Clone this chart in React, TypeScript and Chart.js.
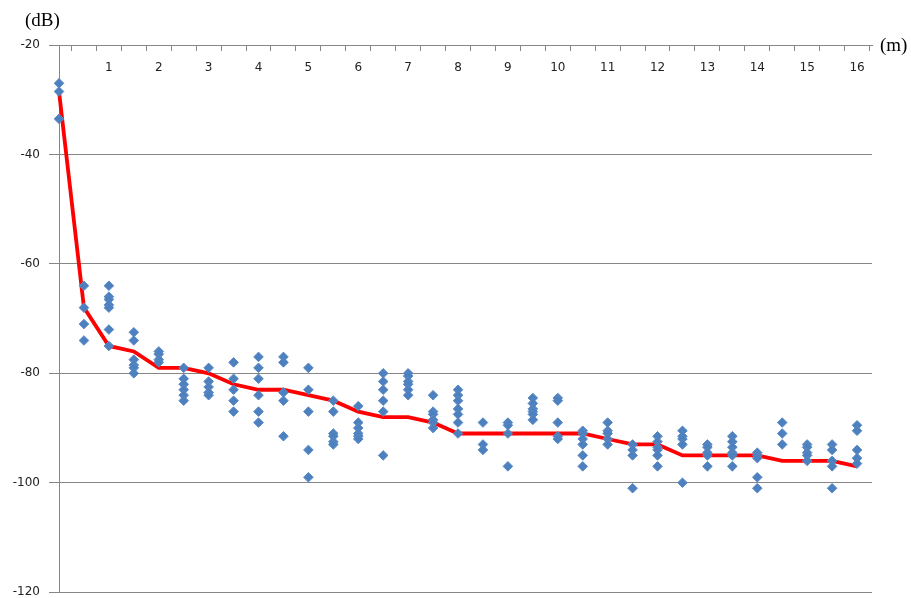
import React, { useEffect, useRef } from "react";
import { Chart, registerables } from "chart.js";

Chart.register(...registerables);

// distance from source (m)
const distances = [
  0, 0.5, 1, 1.5, 2, 2.5, 3, 3.5, 4, 4.5, 5, 5.5, 6, 6.5, 7, 7.5, 8,
  8.5, 9, 9.5, 10, 10.5, 11, 11.5, 12, 12.5, 13, 13.5, 14, 14.5, 15, 15.5, 16,
];

// measured levels (dB) at each distance
const measured: number[][] = [
  [-27, -28.5, -33.5],
  [-64, -68, -71, -74],
  [-64, -66, -66.5, -67.5, -68, -72, -75],
  [-72.5, -74, -77.5, -78.5, -79, -80],
  [-76, -76.5, -77.5, -78],
  [-79, -81, -82, -83, -84, -85],
  [-79, -81.5, -82.5, -83.5, -84],
  [-78, -81, -83, -85, -87],
  [-77, -79, -81, -84, -87, -89],
  [-77, -78, -83.5, -85, -91.5],
  [-79, -83, -87, -94, -99],
  [-85, -87, -91, -91.5, -92.5, -93],
  [-86, -89, -90, -91, -91.5, -92],
  [-80, -81.5, -83, -85, -87, -95],
  [-80, -80.5, -81.5, -82, -83, -84],
  [-84, -87, -87.5, -88.5, -89, -90],
  [-83, -84, -85, -86.5, -87.5, -89, -91],
  [-89, -93, -94],
  [-89, -89.5, -91, -97],
  [-84.5, -85.5, -86.5, -87, -87.5, -88.5],
  [-84.5, -85, -89, -91.5, -92],
  [-90.5, -91, -92, -93, -95, -97],
  [-89, -90.5, -91, -92, -93],
  [-93, -94, -95, -101],
  [-91.5, -92.5, -93.5, -94, -95, -97],
  [-90.5, -91.5, -92, -93, -100],
  [-93, -93.5, -94.5, -95, -97],
  [-91.5, -92.5, -93.5, -94.5, -95, -97],
  [-94.5, -95, -95.5, -99, -101],
  [-89, -91, -93],
  [-93, -93.5, -94.5, -95, -96],
  [-93, -94, -96, -97, -101],
  [-89.5, -90.5, -94, -95.5, -96.5],
];

// representative (trend) level at each distance (dB)
const trend = [
  -28.5, -68, -75, -76, -79, -79, -80, -82, -83, -83, -84, -85, -87, -88, -88, -89, -91,
  -91, -91, -91, -91, -91, -92, -93, -93, -95, -95, -95, -95, -96, -96, -96, -97,
];

const yTicks = [-20, -40, -60, -80, -100, -120];
const yUnit = "(dB)";
const xUnit = "(m)";

const unitLabels = {
  id: "unitLabels",
  afterDraw(chart: any) {
    const ctx = chart.ctx;
    ctx.save();
    ctx.font = '19px "Liberation Serif"';
    ctx.fillStyle = "#000000";
    ctx.textBaseline = "middle";
    ctx.textAlign = "left";
    ctx.fillText(yUnit, 25, 21);
    ctx.fillText(xUnit, 880, 46);
    ctx.restore();
  },
};

export default function App() {
  const ref = useRef<HTMLCanvasElement | null>(null);

  useEffect(() => {
    if (!ref.current) return;
    const points: { x: number; y: number }[] = [];
    distances.forEach((d, i) => {
      measured[i].forEach((v) => points.push({ x: d, y: v }));
    });
    const line = distances.map((d, i) => ({ x: d, y: trend[i] }));
    const gray = "#868686";

    const chart = new Chart(ref.current, {
      type: "scatter",
      data: {
        datasets: [
          {
            label: "measured",
            data: points,
            pointStyle: "rectRot",
            pointRadius: 4.8,
            backgroundColor: "#4D80BE",
            borderColor: "#5A89C3",
            borderWidth: 1,
            clip: false,
          } as any,
          {
            type: "line",
            label: "trend",
            data: line,
            showLine: true,
            borderColor: "#FF0000",
            borderWidth: 3.8,
            pointRadius: 0,
            tension: 0,
            fill: false,
            clip: false,
          } as any,
        ],
      },
      options: {
        responsive: false,
        animation: false,
        events: [],
        layout: { padding: { left: 0, right: 39, top: 0, bottom: 3 } },
        plugins: { legend: { display: false }, tooltip: { enabled: false } },
        scales: {
          x: {
            type: "linear",
            position: "top",
            min: 0,
            max: 16.3,
            afterBuildTicks: (scale: any) => {
              scale.ticks = distances.map((v) => ({ value: v }));
            },
            afterFit: (scale: any) => {
              scale.height = 45;
              scale.paddingLeft = 0;
              scale.paddingRight = 0;
            },
            grid: {
              display: true,
              drawOnChartArea: false,
              drawTicks: true,
              tickLength: -6,
              offset: true,
              color: gray,
            },
            border: { display: true, color: gray, width: 1 },
            ticks: {
              mirror: true,
              padding: 16,
              autoSkip: false,
              maxRotation: 0,
              color: "#222222",
              font: { family: '"DejaVu Sans"', size: 12 },
              callback: (value: any) => {
                const v = Number(value);
                return Number.isInteger(v) && v > 0 ? String(v) : "";
              },
            },
          },
          y: {
            type: "linear",
            min: -120,
            max: -20,
            afterBuildTicks: (scale: any) => {
              scale.ticks = yTicks.map((v) => ({ value: v }));
            },
            afterFit: (scale: any) => {
              scale.width = 59;
              scale.paddingTop = 0;
              scale.paddingBottom = 0;
            },
            grid: {
              color: gray,
              lineWidth: 1,
              tickLength: 10,
            },
            border: { display: true, color: gray, width: 1 },
            ticks: {
              padding: 9,
              color: "#222222",
              font: { family: '"DejaVu Sans"', size: 12 },
            },
          },
        },
      },
      plugins: [unitLabels],
    });
    return () => chart.destroy();
  }, []);

  return (
    <div style={{ position: "absolute", left: 0, top: 0, width: 911, height: 598, background: "#ffffff" }}>
      <canvas ref={ref} width={911} height={598} style={{ display: "block" }} />
    </div>
  );
}
